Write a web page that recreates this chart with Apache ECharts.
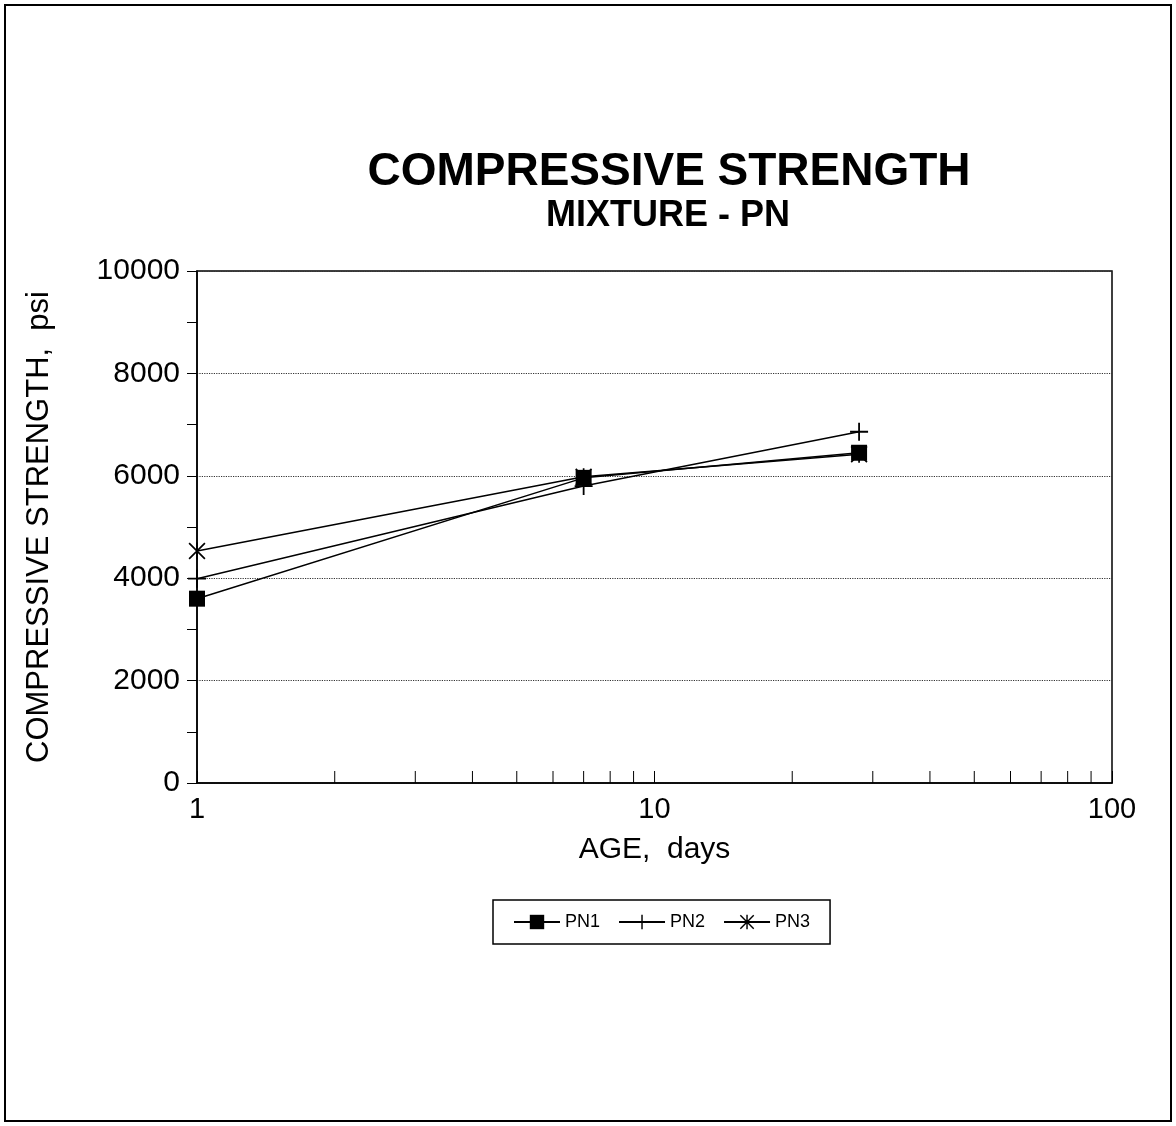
<!DOCTYPE html>
<html>
<head>
<meta charset="utf-8">
<title>Compressive Strength - Mixture PN</title>
<script src="https://cdn.jsdelivr.net/npm/echarts@6/dist/echarts.min.js"></script>
<style>
  html, body { margin: 0; padding: 0; background: #fff; }
  #chart { width: 1176px; height: 1126px; }
</style>
</head>
<body>
<div id="chart"></div>
<script>
// age in days (log axis)
const ages = [1, 7, 28];
// compressive strength, psi
const pn1 = [3600, 5960, 6450];
const pn2 = [3990, 5800, 6860];
const pn3 = [4530, 5980, 6420];
const seriesNames = ['PN1', 'PN2', 'PN3'];
const xMinorValues = [2, 3, 4, 5, 6, 7, 8, 9, 20, 30, 40, 50, 60, 70, 80, 90];

const FONT = '"Liberation Sans", Arial, sans-serif';

// marker shapes
const plusPath = 'path://M9,0H11V20H9Z M0,9H20V11H0Z';
const starPath = 'path://M9,0H11V20H9Z M1.4,0L20,18.6L18.6,20L0,1.4Z M18.6,0L20,1.4L1.4,20L0,18.6Z';

function pairs(ys) {
  return ages.map((a, i) => [a, ys[i]]);
}

function makeSeries(name, ys, symbol, size) {
  return {
    name: name,
    type: 'line',
    data: pairs(ys),
    symbol: symbol,
    symbolSize: size,
    showSymbol: true,
    lineStyle: { color: '#000', width: 1.5 },
    itemStyle: { color: '#000' },
    emphasis: { disabled: true },
    animation: false
  };
}

const chart = echarts.init(document.getElementById('chart'));
chart.setOption({
  backgroundColor: '#fff',
  animation: false,
  grid: {
    left: 197, right: 64, top: 271, bottom: 343,
    show: true, borderColor: '#000', borderWidth: 1.5
  },
  legend: {
    data: seriesNames,
    left: 493, top: 900,
    padding: [13, 20],
    itemGap: 18,
    itemWidth: 46,
    itemHeight: 18,
    borderColor: '#000',
    borderWidth: 1.5,
    textStyle: { fontFamily: FONT, fontSize: 18, color: '#000' }
  },
  xAxis: {
    type: 'log',
    logBase: 10,
    min: 1,
    max: 100,
    name: 'AGE,  days',
    nameLocation: 'middle',
    nameGap: 52,
    nameTextStyle: { fontFamily: FONT, fontSize: 30, color: '#000' },
    axisLine: { lineStyle: { color: '#000', width: 1.5 } },
    axisTick: { show: true, inside: true, length: 12, lineStyle: { color: '#000' } },
    axisLabel: { fontFamily: FONT, fontSize: 29, color: '#000', margin: 12 },
    splitLine: { show: false }
  },
  yAxis: {
    type: 'value',
    min: 0,
    max: 10000,
    interval: 2000,
    name: 'COMPRESSIVE STRENGTH,  psi',
    nameLocation: 'middle',
    nameRotate: 90,
    nameGap: 142,
    nameTextStyle: { fontFamily: FONT, fontSize: 31, color: '#000' },
    axisLine: { show: true, lineStyle: { color: '#000', width: 1.5 } },
    axisTick: { show: true, inside: false, length: 10, lineStyle: { color: '#000' } },
    minorTick: { show: true, splitNumber: 2, length: 10, lineStyle: { color: '#000' } },
    axisLabel: {
      fontFamily: FONT, fontSize: 30, color: '#000', margin: 17,
      formatter: v => String(v)
    },
    splitLine: { show: true, lineStyle: { color: '#333', type: 'dotted', width: 1.2 } }
  },
  series: [
    makeSeries('PN1', pn1, 'rect', 16),
    makeSeries('PN2', pn2, plusPath, 18),
    makeSeries('PN3', pn3, starPath, 17)
  ]
});

// minor ticks of the log axis, placed through the axis scale
const baseY = chart.convertToPixel({ yAxisIndex: 0 }, 0);
const tickGraphics = xMinorValues.map(v => {
  const x = chart.convertToPixel({ xAxisIndex: 0 }, v);
  return {
    type: 'line',
    shape: { x1: x, y1: baseY, x2: x, y2: baseY - 12 },
    style: { stroke: '#000', lineWidth: 1 },
    silent: true
  };
});

chart.setOption({
  graphic: [
    {
      type: 'rect',
      shape: { x: 5, y: 5, width: 1166, height: 1116 },
      style: { fill: 'none', stroke: '#000', lineWidth: 2 },
      silent: true
    },
    {
      type: 'text',
      x: 669, y: 172,
      style: {
        text: 'COMPRESSIVE STRENGTH',
        font: 'bold 46px ' + FONT,
        fill: '#000',
        textAlign: 'center',
        textVerticalAlign: 'middle'
      }
    },
    {
      type: 'text',
      x: 668, y: 216,
      style: {
        text: 'MIXTURE - PN',
        font: 'bold 36px ' + FONT,
        fill: '#000',
        textAlign: 'center',
        textVerticalAlign: 'middle'
      }
    }
  ].concat(tickGraphics)
});
</script>
</body>
</html>
